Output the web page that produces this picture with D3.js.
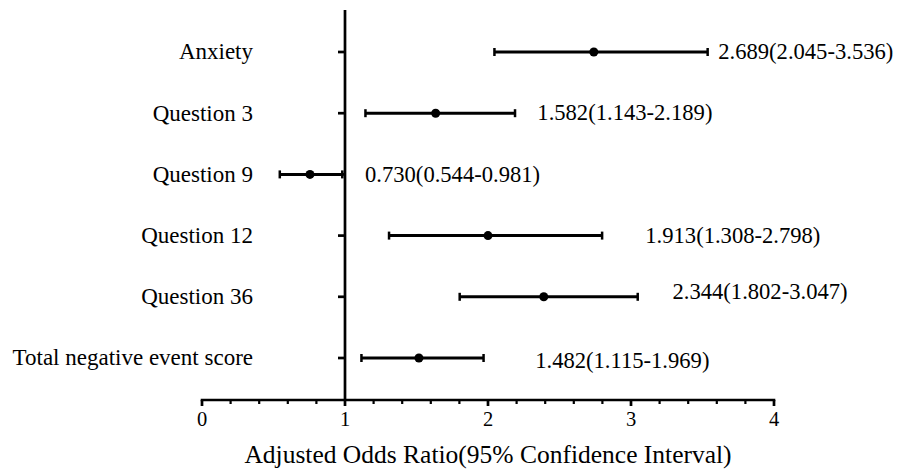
<!DOCTYPE html>
<html>
<head>
<meta charset="utf-8">
<script src="https://cdn.jsdelivr.net/npm/d3@7"></script>
<style>
  html, body { margin: 0; padding: 0; background: #fff; }
  svg { display: block; }
  svg text { font-family: "Liberation Serif", "Times New Roman", serif; fill: #000; }
</style>
</head>
<body>
<div id="outlet"></div>
<script>
// rows, top to bottom
const categories = ["Anxiety", "Question 3", "Question 9", "Question 12", "Question 36", "Total negative event score"];
// dot positions as drawn in the figure
const estimates = [2.74, 1.634, 0.755, 2.0, 2.39, 1.517];
const lower = [2.045, 1.143, 0.544, 1.308, 1.802, 1.115];
const upper = [3.536, 2.189, 0.981, 2.798, 3.047, 1.969];
// annotation text and where it starts (axis units)
const annotations = ["2.689(2.045-3.536)", "1.582(1.143-2.189)", "0.730(0.544-0.981)", "1.913(1.308-2.798)", "2.344(1.802-3.047)", "1.482(1.115-1.969)"];
const annotationAt = [3.61, 2.345, 1.14, 3.1, 3.29, 2.33];
const xTicks = [0, 1, 2, 3, 4];
const xLabel = "Adjusted Odds Ratio(95% Confidence Interval)";

const width = 906, height = 469;
const axisY = 400;

const x = d3.scaleLinear().domain([0, 4]).range([202, 774]);
const y = d3.scalePoint().domain(categories).range([52, 358]);

const svg = d3.select("#outlet")
  .append("svg")
  .attr("width", width)
  .attr("height", height)
  .attr("viewBox", [0, 0, width, height]);

// x axis: minor ticks every 0.2, major every 1
const minor = d3.range(0, 4.0001, 0.2).filter(v => Math.abs(v - Math.round(v)) > 1e-6);
const gx = svg.append("g").attr("transform", `translate(0,${axisY})`);
gx.append("line")
  .attr("x1", x(0) - 1.3).attr("x2", x(4) + 1.3)
  .attr("stroke", "#000").attr("stroke-width", 2.7);
gx.selectAll(".minor").data(minor).join("line")
  .attr("class", "minor")
  .attr("x1", d => x(d)).attr("x2", d => x(d))
  .attr("y1", 0).attr("y2", 4)
  .attr("stroke", "#000").attr("stroke-width", 2.2);
gx.selectAll(".major").data(xTicks).join("line")
  .attr("class", "major")
  .attr("x1", d => x(d)).attr("x2", d => x(d))
  .attr("y1", 0).attr("y2", 6)
  .attr("stroke", "#000").attr("stroke-width", 2.7);
gx.selectAll(".tick-label").data(xTicks).join("text")
  .attr("class", "tick-label")
  .attr("x", d => x(d))
  .attr("y", 25.5)
  .attr("text-anchor", "middle")
  .attr("font-size", 20.5)
  .text(d => d);

svg.append("text")
  .attr("x", (x(0) + x(4)) / 2)
  .attr("y", 463)
  .attr("text-anchor", "middle")
  .attr("font-size", 25.5)
  .text(xLabel);

// reference line at OR = 1, doubles as the y axis
svg.append("line")
  .attr("x1", x(1)).attr("x2", x(1))
  .attr("y1", 10).attr("y2", axisY)
  .attr("stroke", "#000").attr("stroke-width", 2.7);

const gy = svg.append("g");
gy.selectAll("line").data(categories).join("line")
  .attr("x1", x(1) - 7).attr("x2", x(1))
  .attr("y1", d => y(d)).attr("y2", d => y(d))
  .attr("stroke", "#000").attr("stroke-width", 2.7);
gy.selectAll("text").data(categories).join("text")
  .attr("x", 253)
  .attr("y", d => y(d))
  .attr("dy", "0.32em")
  .attr("text-anchor", "end")
  .attr("font-size", 23)
  .text(d => d);

// confidence intervals
const rows = svg.append("g")
  .selectAll("g")
  .data(d3.range(categories.length))
  .join("g")
  .attr("transform", i => `translate(0,${y(categories[i])})`);

rows.append("line")
  .attr("x1", i => x(lower[i])).attr("x2", i => x(upper[i]))
  .attr("stroke", "#000").attr("stroke-width", 3);
rows.append("line")
  .attr("x1", i => x(lower[i])).attr("x2", i => x(lower[i]))
  .attr("y1", -4).attr("y2", 4)
  .attr("stroke", "#000").attr("stroke-width", 2.5);
rows.append("line")
  .attr("x1", i => x(upper[i])).attr("x2", i => x(upper[i]))
  .attr("y1", -4).attr("y2", 4)
  .attr("stroke", "#000").attr("stroke-width", 2.5);
rows.append("circle")
  .attr("cx", i => x(estimates[i]))
  .attr("r", 4.5)
  .attr("fill", "#000");
// labels were nudged by hand in the original
const nudge = { 4: -5, 5: 3 };
rows.append("text")
  .attr("x", i => x(annotationAt[i]))
  .attr("y", i => nudge[i] ?? 0)
  .attr("dy", "0.32em")
  .attr("font-size", 22.6)
  .text(i => annotations[i]);
</script>
</body>
</html>
